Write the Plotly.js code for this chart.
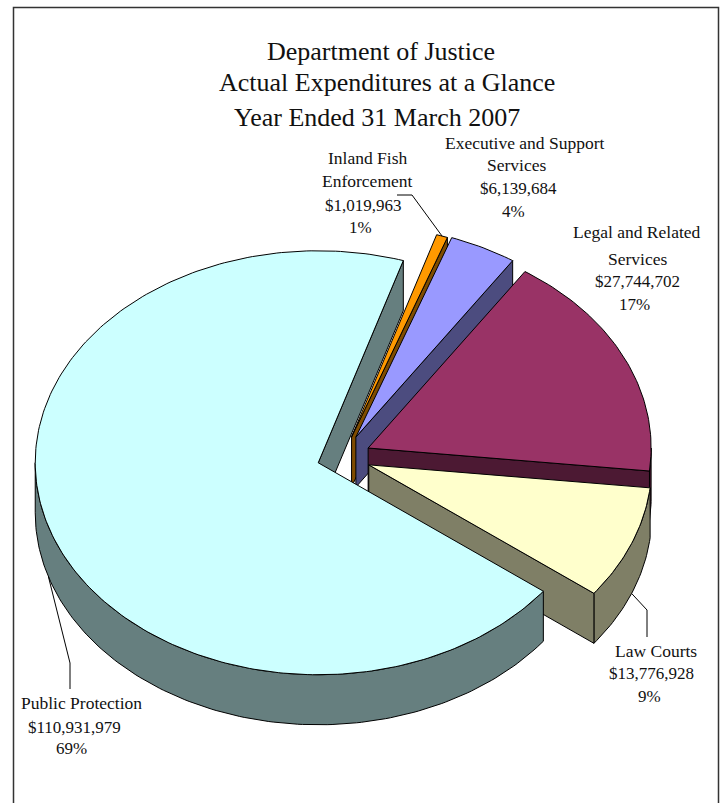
<!DOCTYPE html>
<html>
<head>
<meta charset="utf-8">
<script src="https://cdn.plot.ly/plotly-3.0.1.min.js"></script>
<style>html,body{margin:0;padding:0;background:#fff}#chart{width:724px;height:803px}</style>
</head>
<body>
<div id="chart"></div>
<script>
// ---- data, clockwise starting just after the Public Protection slice ----
const categories = ["Inland Fish Enforcement", "Executive and Support Services", "Legal and Related Services", "Law Courts", "Public Protection"];
const values = [1019963, 6139684, 27744702, 13776928, 110931979];
const percents = ["1%", "4%", "17%", "9%", "69%"];
const titleLines = ["Department of Justice", "Actual Expenditures at a Glance", "Year Ended 31 March 2007"];

// ---- styles ----
const topColors = ["#FF9900", "#9999FF", "#993366", "#FFFFCC", "#CCFFFF"];
const wallColors = ["#7F4C00", "#4C4C7F", "#4C1933", "#7F7F66", "#667F7F"];
const explode = [0.1, 0.105, 0.1, 0.1, 0.09];
const labelFont = {family: "Liberation Serif", size: 17.5, color: "#111"};
const numberFont = {family: "Liberation Serif", size: 17, color: "#111"};
const titleFont = {family: "Liberation Serif", size: 26, color: "#111"};

// ---- projection of the tilted pie (pixel-like axis units) ----
const BASE = {x: 342.5, y: 457}, RX = 283, RY = 212, DEPTH = 50, START = 17.5;
const rad = d => d * Math.PI / 180;
const total = values.reduce((a, b) => a + b, 0);

let cursor = START;
const slices = values.map((v, i) => {
  const a0 = cursor, a1 = cursor + v / total * 360;
  cursor = a1;
  const mid = (a0 + a1) / 2;
  return {a0, a1, mid, i,
    cx: BASE.x + explode[i] * RX * Math.sin(rad(mid)),
    cy: BASE.y - explode[i] * RY * Math.cos(rad(mid))};
});
const rim = (s, a, dz = 0) => [s.cx + RX * Math.sin(rad(a)), s.cy - RY * Math.cos(rad(a)) + dz];
function arc(s, a0, a1, dz = 0) {
  const n = Math.max(2, Math.ceil(Math.abs(a1 - a0)));
  const pts = [];
  for (let k = 0; k <= n; k++) pts.push(rim(s, a0 + (a1 - a0) * k / n, dz));
  return pts;
}
function poly(pts, color, name) {
  const c = pts.concat([pts[0]]);
  return {type: "scatter", mode: "lines", x: c.map(p => p[0]), y: c.map(p => p[1]),
    fill: "toself", fillcolor: color, line: {color: "#000", width: 1}, hoverinfo: "text", text: name, showlegend: false};
}
const topFace = s => poly([[s.cx, s.cy]].concat(arc(s, s.a0, s.a1)), topColors[s.i], categories[s.i]);
const cutWall = s => {
  const t = rim(s, s.a1), b = rim(s, s.a1, DEPTH);
  return poly([[s.cx, s.cy], t, b, [s.cx, s.cy + DEPTH]], wallColors[s.i], categories[s.i]);
};
const outerWall = s => {
  const lo = Math.max(s.a0, 90), hi = Math.min(s.a1, 270);
  if (hi <= lo) return null;
  return poly(arc(s, lo, hi).concat(arc(s, hi, lo, DEPTH)), wallColors[s.i], categories[s.i]);
};

const traces = [];
const pp = slices[4];
traces.push(cutWall(pp));
[0, 1, 2, 3].forEach(i => {
  const s = slices[i];
  const w = outerWall(s);
  if (w) traces.push(w);
  traces.push(cutWall(s));
  traces.push(topFace(s));
});
traces.push(outerWall(pp));
traces.push(topFace(pp));

// ---- leader lines: from the rim of a slice through elbows ----
function leader(pts) {
  return {type: "scatter", mode: "lines", x: pts.map(p => p[0]), y: pts.map(p => p[1]),
    line: {color: "#000", width: 1}, hoverinfo: "skip", showlegend: false};
}
traces.push(leader([rim(slices[0], slices[0].mid), [412, 195], [397, 195]]));
traces.push(leader([rim(slices[3], slices[3].mid, DEPTH), [647, 610], [647, 637]]));
traces.push(leader([rim(pp, pp.mid, DEPTH), [70, 663], [70, 689]]));

// ---- text ----
const money = v => "$" + v.toLocaleString("en-US");
const text = (t, x, y, font) => ({text: t, x, y, xref: "x", yref: "y", showarrow: false, xanchor: "center", yanchor: "middle", font});
const annotations = [
  text(titleLines[0], 381, 51, titleFont),
  text(titleLines[1], 387, 82, titleFont),
  text(titleLines[2], 377, 117, titleFont),
  text("Inland Fish", 367, 158, labelFont),
  text("Enforcement", 367, 181, labelFont),
  text(money(values[0]), 363, 205, numberFont),
  text(percents[0], 360, 227, numberFont),
  text("Executive and Support", 525, 143, labelFont),
  text("Services", 516, 165, labelFont),
  text(money(values[1]), 518, 188, numberFont),
  text(percents[1], 513, 211, numberFont),
  text("Legal and Related", 637, 232, labelFont),
  text("Services", 637, 259, labelFont),
  text(money(values[2]), 637, 281, numberFont),
  text(percents[2], 634, 304, numberFont),
  text(categories[3], 656, 651, labelFont),
  text(money(values[3]), 651, 673, numberFont),
  text(percents[3], 649, 696, numberFont),
  text(categories[4], 81, 703, labelFont),
  text(money(values[4]), 74, 727, numberFont),
  text(percents[4], 71, 748, numberFont)
];

const frame = {type: "path", xref: "x", yref: "y", path: "M13.5,803 L13.5,7.5 L718.5,7.5 L718.5,803", line: {color: "#333", width: 1.5}};

const layout = {
  width: 724, height: 803, margin: {l: 0, r: 0, t: 0, b: 0},
  paper_bgcolor: "#fff", plot_bgcolor: "#fff", showlegend: false,
  xaxis: {range: [0, 724], visible: false, fixedrange: true},
  yaxis: {range: [803, 0], visible: false, fixedrange: true},
  annotations, shapes: [frame]
};
Plotly.newPlot("chart", traces, layout, {displayModeBar: false, staticPlot: true});
</script>
</body>
</html>
